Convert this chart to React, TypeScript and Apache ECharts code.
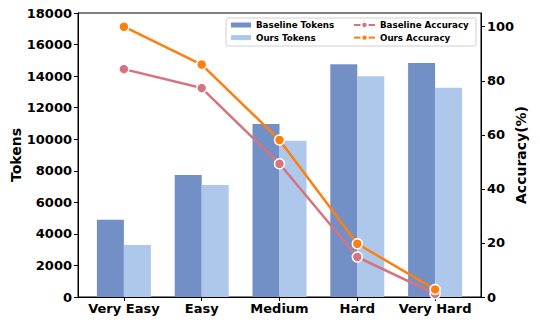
import React, { useEffect, useRef } from "react";
import * as echarts from "echarts";

const categories = ["Very Easy", "Easy", "Medium", "Hard", "Very Hard"];
const baselineTokens = [4900, 7730, 10960, 14750, 14830];
const oursTokens = [3300, 7100, 9900, 13990, 13270];
const baselineAcc = [84.3, 77.3, 49.3, 14.8, 1.2];
const oursAcc = [100, 86.0, 58.1, 19.7, 2.8];
const leftTicks = [0, 2000, 4000, 6000, 8000, 10000, 12000, 14000, 16000, 18000];

const FONT = "DejaVu Sans";
const C_BASE_BAR = "#7290C6";
const C_OURS_BAR = "#AEC8EC";
const C_BASE_LINE = "#D5737F";
const C_OURS_LINE = "#FF7F0E";

export default function App() {
  const ref = useRef<HTMLDivElement>(null);
  useEffect(() => {
    if (!ref.current) return;
    const chart = echarts.init(ref.current, undefined, { renderer: "svg" });
    const idx = categories.map((_, i) => i);
    const pairs = (arr: number[]) => arr.map((v, i) => [idx[i], v]);
    const labelStyle = { fontFamily: FONT, fontWeight: "bold" as const, fontSize: 13, color: "#000" };
    chart.setOption({
      animation: false,
      backgroundColor: "#fff",
      grid: {
        left: 78,
        right: 59,
        top: 13,
        bottom: 27,
        outerBoundsMode: "none",
        containLabel: false,
        show: true,
        borderColor: "#000",
        borderWidth: 1,
        backgroundColor: "transparent",
      },
      xAxis: {
        type: "value",
        min: -0.59,
        max: 4.59,
        splitLine: { show: false },
        axisLine: { show: true, onZero: false, lineStyle: { color: "#000", width: 1 } },
        axisTick: {
          show: true,
          customValues: idx,
          length: 4,
          lineStyle: { color: "#000" },
        },
        axisLabel: {
          customValues: idx,
          formatter: (v: number) => categories[Math.round(v)] ?? "",
          margin: 5,
          ...labelStyle,
        },
      },
      yAxis: [
        {
          type: "value",
          min: 0,
          max: 18000,
          interval: 2000,
          position: "left",
          name: "Tokens",
          nameLocation: "middle",
          nameGap: 55,
          nameMoveOverlap: false,
          nameTextStyle: { fontFamily: FONT, fontWeight: "bold", fontSize: 14, color: "#000" },
          splitLine: { show: false },
          axisLine: { show: true, onZero: false, lineStyle: { color: "#000" } },
          axisTick: { show: true, length: 4, lineStyle: { color: "#000" } },
          axisLabel: {
            margin: 6,
            ...labelStyle,
            formatter: (v: number) => (leftTicks.includes(v) ? String(v) : ""),
          },
        },
        {
          type: "value",
          min: 0,
          max: 105.07,
          interval: 20,
          position: "right",
          name: "Accuracy(%)",
          nameLocation: "middle",
          nameGap: 33,
          nameMoveOverlap: false,
          nameTextStyle: { fontFamily: FONT, fontWeight: "bold", fontSize: 14, color: "#000" },
          splitLine: { show: false },
          axisLine: { show: true, onZero: false, lineStyle: { color: "#000" } },
          axisTick: { show: true, length: 4, lineStyle: { color: "#000" } },
          axisLabel: {
            margin: 6,
            showMaxLabel: false,
            ...labelStyle,
          },
        },
      ],
      legend: [
        {
          data: ["Baseline Tokens", "Ours Tokens"],
          orient: "vertical",
          left: 231,
          top: 20,
          itemWidth: 20,
          itemHeight: 5,
          itemGap: 2.6,
          padding: 0,
          icon: "rect",
          textStyle: { fontFamily: FONT, fontWeight: "bold", fontSize: 8.7, color: "#000", lineHeight: 10 },
        },
        {
          data: ["Baseline Accuracy", "Ours Accuracy"],
          orient: "vertical",
          left: 353,
          top: 20,
          itemWidth: 21,
          itemHeight: 8,
          itemGap: 2.6,
          padding: 0,
          textStyle: { fontFamily: FONT, fontWeight: "bold", fontSize: 8.7, color: "#000", lineHeight: 10 },
        },
      ],
      graphic: [
        {
          type: "rect",
          shape: { x: 226, y: 18, width: 250, height: 28, r: 2 },
          style: { fill: "rgba(255,255,255,0.8)", stroke: "#d0d0d0", lineWidth: 1 },
          z: 4,
        },
      ],
      series: [
        {
          name: "Baseline Tokens",
          type: "bar",
          yAxisIndex: 0,
          data: pairs(baselineTokens),
          barWidth: 27,
          barGap: "0%",
          itemStyle: { color: C_BASE_BAR },
          z: 2,
        },
        {
          name: "Ours Tokens",
          type: "bar",
          yAxisIndex: 0,
          data: pairs(oursTokens),
          barWidth: 27,
          barGap: "0%",
          itemStyle: { color: C_OURS_BAR },
          z: 2,
        },
        {
          name: "Baseline Accuracy",
          type: "line",
          yAxisIndex: 1,
          data: pairs(baselineAcc),
          symbol: "circle",
          symbolSize: 10,
          lineStyle: { color: C_BASE_LINE, width: 2.5 },
          itemStyle: { color: C_BASE_LINE, borderColor: "#fff", borderWidth: 1.5 },
          z: 3,
        },
        {
          name: "Ours Accuracy",
          type: "line",
          yAxisIndex: 1,
          data: pairs(oursAcc),
          symbol: "circle",
          symbolSize: 10,
          lineStyle: { color: C_OURS_LINE, width: 2.5 },
          itemStyle: { color: C_OURS_LINE, borderColor: "#fff", borderWidth: 1.5 },
          z: 3,
        },
      ],
    });
    return () => chart.dispose();
  }, []);
  return <div ref={ref} style={{ width: 540, height: 324, position: "absolute", left: 0, top: 0 }} />;
}
